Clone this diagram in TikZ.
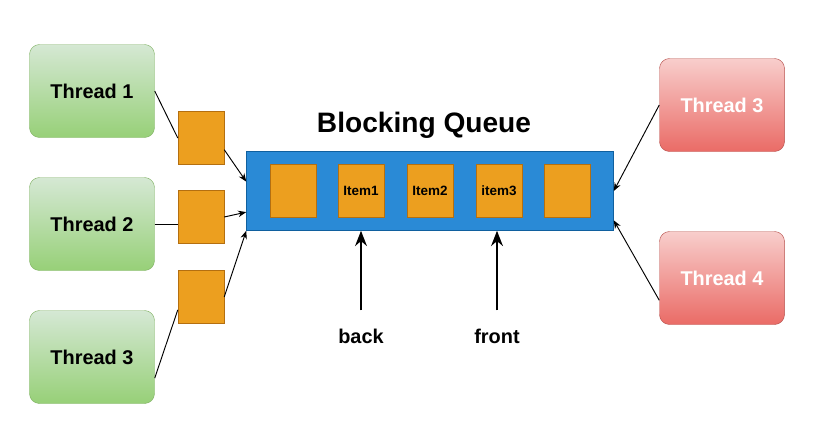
\documentclass[tikz,border=0pt]{standalone}
\usepackage{fontspec}
\setmainfont{Liberation Sans}
\usetikzlibrary{arrows.meta}
\definecolor{gtop}{HTML}{D5E8D4}
\definecolor{gbot}{HTML}{97D077}
\definecolor{gline}{HTML}{82B366}
\definecolor{rtop}{HTML}{F8CECC}
\definecolor{rbot}{HTML}{EA6B66}
\definecolor{rline}{HTML}{B85450}
\definecolor{slotfill}{HTML}{EC9F1F}
\definecolor{slotline}{HTML}{B46F10}
\definecolor{qfill}{HTML}{2A8AD6}
\definecolor{qline}{HTML}{10609F}
\tikzset{
  thread/.style={rounded corners=0.3cm, minimum width=3.75cm, minimum height=2.79cm,
    font=\fontsize{17}{20}\selectfont\bfseries},
  greenthread/.style={thread, draw=gline, top color=gtop, bottom color=gbot},
  redthread/.style={thread, draw=rline, top color=rtop, bottom color=rbot, text=white},
  slot/.style={draw=slotline, fill=slotfill, minimum width=1.38cm, minimum height=1.58cm,
    inner sep=0pt, font=\fontsize{11.5}{13}\selectfont\bfseries},
  queue/.style={draw=qline, fill=qfill, minimum width=11.01cm, minimum height=2.37cm},
  label/.style={font=\fontsize{17}{20}\selectfont\bfseries},
  link/.style={black, line width=0.8pt},
  push/.style={-{Stealth[length=7pt,width=5.5pt]}, black, line width=0.8pt},
  pointer/.style={-{Stealth[length=13pt,width=10pt]}, black, line width=2.4pt}
}
\begin{document}
\begin{tikzpicture}[x=0.03cm, y=-0.03cm, >=stealth]
    \useasboundingbox (0,0) rectangle (823,436);
    % producers
    \node[greenthread] (t1) at (92,91) {Thread 1};
    \node[greenthread] (t2) at (92,224) {Thread 2};
    \node[greenthread] (t3) at (92,357) {Thread 3};
    \node[slot] (s1) at (201,138) {};
    \node[slot] (s2) at (201,217) {};
    \node[slot] (s3) at (201,297) {};
    % the queue
    \node[queue] (q) at (430,191) {};
    \node[font=\fontsize{24}{28}\selectfont\bfseries] (title) at (424,125) {Blocking Queue};
    \foreach \n/\x/\t in {0/293/, 1/361/Item1, 2/430/Item2, 3/499/item3, 4/567/}
        {
            \node[slot] (i\n) at (\x,191) {\t};
        }
    % consumers
    \node[redthread] (r3) at (722,105) {Thread 3};
    \node[redthread] (r4) at (722,278) {Thread 4};
    % labels under the queue
    \node[label] (back) at (361,336) {back};
    \node[label] (front) at (497,336) {front};
    \draw[link] (t1.east) -- (s1.west);
    \draw[push] ([yshift=-10pt]s1.east) -- ([yshift=8pt]q.west);
    \draw[link] (t2.east) -- (t2.east -| s2.west);
    \draw[push] (s2.east) -- ([yshift=-18pt]q.west);
    \draw[link] ([yshift=-18pt]t3.east) -- ([yshift=-11pt]s3.west);
    \draw[push] (s3.east) -- (q.south west);
    \draw[push] (r3.west) -- (q.east);
    \draw[push] ([yshift=-19pt]r4.west) -- ([yshift=-25pt]q.east);
    \draw[pointer, shorten <=12pt] (back.north) -- (back.north |- q.south);
    \draw[pointer, shorten <=12pt] (front.north) -- (front.north |- q.south);
\end{tikzpicture}
\end{document}
